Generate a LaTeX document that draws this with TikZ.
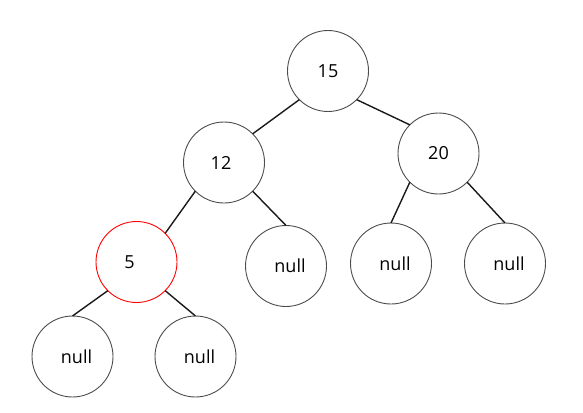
\documentclass[tikz,border=0pt]{standalone}
\usepackage{fontspec}
\setmainfont{Open Sans}

\begin{document}
\begin{tikzpicture}[x=1pt, y=-1pt,
    circ/.style={circle, draw=black!70, line width=0.9pt, minimum size=81pt, inner sep=0pt, outer sep=0pt, font=\fontsize{18}{22}\selectfont},
    edge/.style={line width=1.4pt, black!90}]
  \useasboundingbox (0, 0) rectangle (583, 412);
  \node[circ] (n15) at (328.0, 71.0) {15};
  \node[circ] (n12) at (224.0, 162.5) {12\kern6pt};
  \node[circ] (n20) at (438.5, 153.5) {20};
  \node[circ, draw=red] (n5) at (136.5, 262.0) {5\kern14pt};
  \node[circ] (null12) at (286.0, 266.0) {\kern8pt null};
  \node[circ] (null20a) at (391.0, 263.5) {\kern8pt null};
  \node[circ] (null20b) at (505.0, 263.5) {\kern8pt null};
  \node[circ] (null5a) at (72.5, 356.5) {\kern8pt null};
  \node[circ] (null5b) at (195.5, 356.5) {\kern8pt null};
  \draw[edge] (n15.south west) -- (n12.north east);
  \draw[edge] (n15.south east) -- (n20.north west);
  \draw[edge] (n12.south west) -- (n5.north east);
  \draw[edge] (n12.south east) -- (null12.north);
  \draw[edge] (n20.south west) -- (null20a.north);
  \draw[edge] (n20.south east) -- (null20b.north);
  \draw[edge] (n5.south west) -- (null5a.north);
  \draw[edge] (n5.south east) -- (null5b.north);
\end{tikzpicture}
\end{document}
